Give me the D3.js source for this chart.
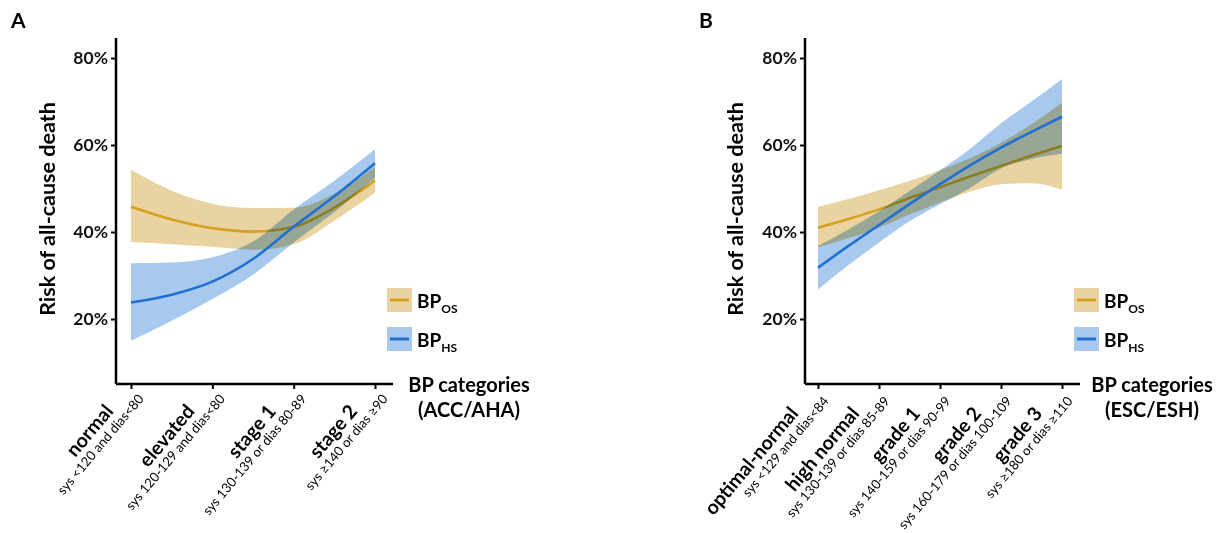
<!DOCTYPE html>
<html>
<head>
<meta charset="utf-8">
<script src="https://cdn.jsdelivr.net/npm/d3@7"></script>
<style>
  body { margin: 0; background: #fff; }
  svg { font-family: Lato, "Open Sans", sans-serif; }
</style>
</head>
<body>
<div id="chart"></div>
<script>
// ---- data ----
const catsA = ["normal", "elevated", "stage 1", "stage 2"];
const subsA = ["sys <120 and dias<80", "sys 120-129 and dias<80", "sys 130-139 or dias 80-89", "sys \u2265140 or dias \u226590"];
const catsB = ["optimal-normal", "high normal", "grade 1", "grade 2", "grade 3"];
const subsB = ["sys <129 and dias<84", "sys 130-139 or dias 85-89", "sys 140-159 or dias 90-99", "sys 160-179 or dias 100-109", "sys \u2265180 or dias \u2265110"];
const yTicks = [20, 40, 60, 80];

// panel A (positions along category axis)
const posA = [0, 0.5, 1, 1.5, 2, 2.5, 3];
const osA   = [45.8, 42.9, 40.9, 40.1, 41.2, 45.6, 51.8];
const osAlo = [37.7, 37.2, 36.6, 35.9, 37.2, 42.6, 49.0];
const osAhi = [54.3, 49.5, 46.5, 45.5, 45.6, 48.8, 55.0];
const hsA   = [23.8, 25.6, 28.6, 33.8, 41.2, 48.2, 55.8];
const hsAlo = [15.0, 19.6, 24.6, 30.2, 37.6, 44.6, 52.5];
const hsAhi = [32.8, 33.0, 34.2, 37.8, 45.2, 51.8, 59.0];

// panel B
const posB = [0, 0.5, 1, 1.5, 2, 2.5, 3, 3.5, 4];
const osB   = [41.0, 43.0, 45.2, 47.8, 50.3, 52.8, 55.2, 57.6, 59.8];
const osBlo = [36.5, 38.6, 41.0, 44.0, 46.8, 49.3, 51.0, 51.2, 49.7];
const osBhi = [45.8, 47.6, 49.6, 51.8, 54.2, 57.0, 60.5, 64.8, 69.7];
const hsB   = [31.8, 36.8, 41.6, 46.4, 51.0, 55.4, 59.4, 63.0, 66.5];
const hsBlo = [26.8, 32.4, 37.6, 42.5, 46.4, 50.2, 54.6, 56.8, 58.0];
const hsBhi = [36.8, 40.6, 44.8, 49.4, 54.2, 59.2, 65.0, 70.0, 75.2];

const colOS = "#d6a021", fillOS = "#e9d3a0";
const colHS = "#1f70d2", fillHS = "#a7c9ee";

const svg = d3.select("#chart").append("svg")
    .attr("width", 1225).attr("height", 533);

const y = d3.scaleLinear().domain([5.06, 84.6]).range([384, 38]);

function panel(opts) {
    const g = svg.append("g");
    const x = d3.scaleLinear().domain([0, opts.cats.length - 1]).range(opts.xr);
    const x0 = opts.axisX, axisY = 384;

    // bands + lines
    const area = d3.area().curve(d3.curveMonotoneX)
        .x((d, i) => x(opts.pos[i]));
    const line = d3.line().curve(d3.curveMonotoneX)
        .x((d, i) => x(opts.pos[i])).y(d => y(d));

    g.append("path")
        .attr("d", area.y0((d, i) => y(opts.osLo[i])).y1((d, i) => y(opts.osHi[i]))(opts.os))
        .attr("fill", fillOS).style("mix-blend-mode", "multiply");
    g.append("path").attr("d", line(opts.os))
        .attr("fill", "none").attr("stroke", colOS).attr("stroke-width", 2.6);
    g.append("path")
        .attr("d", area.y0((d, i) => y(opts.hsLo[i])).y1((d, i) => y(opts.hsHi[i]))(opts.hs))
        .attr("fill", fillHS).style("mix-blend-mode", "multiply");
    g.append("path").attr("d", line(opts.hs))
        .attr("fill", "none").attr("stroke", colHS).attr("stroke-width", 2.6);

    // y axis
    const ya = g.append("g").attr("transform", `translate(${x0},0)`)
        .call(d3.axisLeft(y).tickValues(yTicks).tickSize(5).tickPadding(3).tickFormat(d => d + "%"));
    ya.select(".domain").attr("d", `M0,38V${axisY}`).attr("stroke-width", 2.5);
    ya.selectAll(".tick line").attr("stroke-width", 2);
    ya.selectAll(".tick text").attr("font-size", 17.5).attr("font-weight", "bold").attr("fill", "#111")
        .attr("font-family", "Lato, sans-serif");

    // x axis
    const xa = g.append("g").attr("transform", `translate(0,${axisY})`)
        .call(d3.axisBottom(x).tickValues(d3.range(opts.cats.length)).tickSize(5).tickFormat(""));
    xa.select(".domain").attr("d", `M${x0},0H${opts.xEnd}`).attr("stroke-width", 2.5);
    xa.selectAll(".tick line").attr("stroke-width", 2);

    // rotated category labels: bold name over smaller BP range
    opts.cats.forEach((c, i) => {
        const lg = g.append("g")
            .attr("transform", `translate(${x(i)},${axisY}) rotate(-50)`);
        lg.append("text").attr("text-anchor", "end")
            .attr("font-size", 19.5).attr("font-weight", "bold")
            .attr("x", opts.labEnd - 29).attr("y", 5).text(c);
        lg.append("text").attr("text-anchor", "end")
            .attr("font-size", 13.2).attr("x", opts.labEnd).attr("y", 20).text(opts.subs[i]);
    });

    // axis titles
    g.append("text")
        .attr("transform", `translate(${opts.titleX},209) rotate(-90)`)
        .attr("text-anchor", "middle").attr("font-size", 21.5).attr("font-weight", "bold")
        .text("Risk of all-cause death");
    g.append("text").attr("x", opts.catX).attr("y", 392)
        .attr("text-anchor", "middle").attr("font-size", 20).attr("font-weight", "bold")
        .text("BP categories");
    g.append("text").attr("x", opts.catX).attr("y", 417)
        .attr("text-anchor", "middle").attr("font-size", 20).attr("font-weight", "bold")
        .text(opts.scheme);

    // panel letter
    g.append("text").attr("x", opts.letterX).attr("y", 28)
        .attr("font-size", 21).attr("font-weight", "bold").text(opts.letter);

    // legend
    const leg = [["OS", fillOS, colOS, 288], ["HS", fillHS, colHS, 327]];
    leg.forEach(([s, f, c, ty]) => {
        g.append("rect").attr("x", opts.legX).attr("y", ty).attr("width", 25).attr("height", 24)
            .attr("fill", f);
        g.append("line").attr("x1", opts.legX + 3).attr("x2", opts.legX + 22)
            .attr("y1", ty + 12).attr("y2", ty + 12).attr("stroke", c).attr("stroke-width", 3);
        const t = g.append("text").attr("x", opts.legX + 30).attr("y", ty + 20)
            .attr("font-size", 19).attr("font-weight", "bold");
        t.append("tspan").text("BP");
        t.append("tspan").attr("font-size", 12).attr("dy", 5).text(s);
    });
}

panel({ cats: catsA, subs: subsA, pos: posA, os: osA, osLo: osAlo, osHi: osAhi,
        hs: hsA, hsLo: hsAlo, hsHi: hsAhi, xr: [131, 375], axisX: 116, xEnd: 393,
        titleX: 55, catX: 469, scheme: "(ACC/AHA)", letter: "A", letterX: 11, legX: 387, labEnd: -3 });
panel({ cats: catsB, subs: subsB, pos: posB, os: osB, osLo: osBlo, osHi: osBhi,
        hs: hsB, hsLo: hsBlo, hsHi: hsBhi, xr: [818, 1062], axisX: 805, xEnd: 1080,
        titleX: 743, catX: 1152, scheme: "(ESC/ESH)", letter: "B", letterX: 699, legX: 1074, labEnd: -6 });
</script>
</body>
</html>
